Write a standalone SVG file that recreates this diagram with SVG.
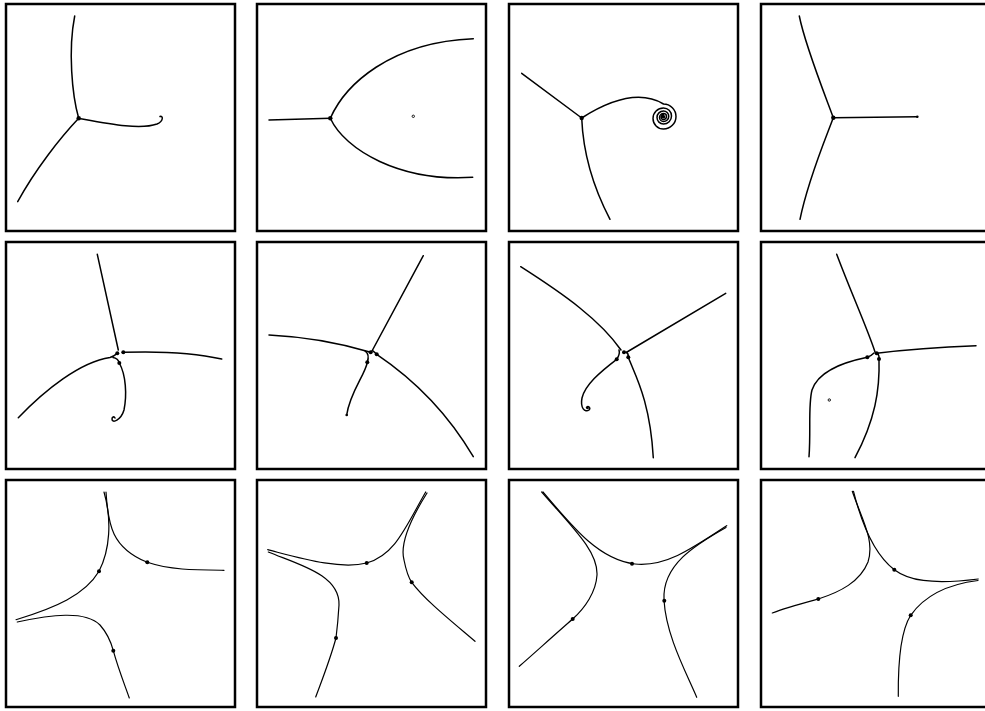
<svg xmlns="http://www.w3.org/2000/svg" width="985" height="711" viewBox="0 0 985 711">
<style>
.frame{fill:none;stroke:#000;stroke-width:2.5}
.c{fill:none;stroke:#000;stroke-width:1.5;stroke-linecap:round;stroke-linejoin:round}
.t{fill:none;stroke:#000;stroke-width:1.2;stroke-linecap:round}
.d{fill:#000}
.o{fill:#fff;stroke:#000;stroke-width:0.9}
</style>
<rect width="985" height="711" fill="#fff"/>
<g id="panel1">
<rect class="frame" x="6" y="4" width="229" height="227"/>
<path class="c" d="M78.7,118.3 C72,95 68,50 74.7,16"/>
<path class="c" d="M78.7,118.3 C60,138 35,170 17.7,201.7"/>
<path class="c" d="M78.7,118.3 C110,124 140,130 157,124 C164,121 163,115.5 160,116.5"/>
<circle class="d" cx="78.7" cy="118.3" r="2.2"/>
</g>
<g id="panel2">
<rect class="frame" x="257" y="4" width="229" height="227"/>
<path class="c" d="M330.3,118.3 L269,120"/>
<path class="c" d="M330.3,118.3 C345,85 390,42 473.3,38.7"/>
<path class="c" d="M330.3,118.3 C345,150 400,182 472.7,177.3"/>
<circle class="d" cx="330.3" cy="118.3" r="2.2"/>
<circle class="o" cx="413.3" cy="116.3" r="1.2"/>
</g>
<g id="panel3">
<rect class="frame" x="509" y="4" width="229" height="227"/>
<path class="c" d="M581.7,118 L521.7,73.3"/>
<path class="c" d="M581.7,118 C583,150 592,185 610,219.3"/>
<path class="c" d="M581.7,118 C610,100 640,90 663.5,104 A12.5,12.5 0 0 1 663.5,129 A10.5,10.5 0 0 1 663.5,108 A8,8 0 0 1 663.5,124 A6.5,6.5 0 0 1 663.5,111 A5.25,5.25 0 0 1 663.5,121.5 A4,4 0 0 1 663.5,113.5 A3,3 0 0 1 663.5,119.5 A2.25,2.25 0 0 1 663.5,115"/>
<circle class="d" cx="663.5" cy="116.8" r="1.8"/>
<circle class="d" cx="581.7" cy="118" r="2.2"/>
</g>
<g id="panel4">
<rect class="frame" x="761" y="4" width="229" height="227"/>
<path class="c" d="M833.3,117.7 C825,95 805,45 799.3,16"/>
<path class="c" d="M833.3,117.7 C825,140 808,180 800,219.3"/>
<path class="c" d="M833.3,117.7 L917.3,116.7"/>
<circle class="d" cx="833.3" cy="117.7" r="2.2"/>
<circle class="d" cx="917.3" cy="116.7" r="1.3"/>
</g>
<g id="panel5">
<rect class="frame" x="6" y="242" width="229" height="227"/>
<path class="c" d="M118.3,350 L97.3,254.3"/>
<path class="c" d="M123.3,352.3 C160,351 195,353 221.7,359"/>
<path class="c" d="M117.3,353.3 C114,356 112,357 110,357.5 C80,362 45,390 18.3,417.7"/>
<path class="c" d="M113,357.5 C116,358 118.5,360 119.3,363 C126,375 127,395 124,410 C121,420 112,424 112,419 C112,417 114,416 115,418"/>
<circle class="d" cx="117.3" cy="353.3" r="2"/>
<circle class="d" cx="123.3" cy="352.3" r="2"/>
<circle class="d" cx="119.3" cy="363" r="2"/>
</g>
<g id="panel6">
<rect class="frame" x="257" y="242" width="229" height="227"/>
<path class="c" d="M372,351 L423.3,255.7"/>
<path class="c" d="M370.7,352.3 C340,343 310,337 269,335"/>
<path class="c" d="M365,351 C368,353 369,357 367.3,362.3 C365,375 350,392 346.7,415"/>
<path class="c" d="M372.5,350.5 C374,352 375.5,353 376.7,354.3 C400,370 440,400 473.3,456.7"/>
<circle class="d" cx="370.7" cy="352.3" r="2"/>
<circle class="d" cx="376.7" cy="354.3" r="2"/>
<circle class="d" cx="367.3" cy="362.3" r="2"/>
<circle class="d" cx="346.7" cy="415" r="1.3"/>
</g>
<g id="panel7">
<rect class="frame" x="509" y="242" width="229" height="227"/>
<path class="c" d="M621,350 C600,320 565,295 520.7,266.7"/>
<path class="c" d="M627,352 L725.7,293.3"/>
<path class="c" d="M619,350 C620,353 619,356 616.7,359.3 C600,372 585,385 582,398 C580,408 585,413 589,410 C591,408 588,405 586.5,407.5"/>
<path class="c" d="M626,352 C628,353 628.5,355 628.3,357.3 C635,375 650,400 653.3,457.7"/>
<circle class="d" cx="624" cy="352.3" r="2"/>
<circle class="d" cx="616.7" cy="359.3" r="2"/>
<circle class="d" cx="628.3" cy="357.3" r="2"/>
<circle class="d" cx="587.5" cy="408" r="1.3"/>
</g>
<g id="panel8">
<rect class="frame" x="761" y="242" width="229" height="227"/>
<path class="c" d="M875,352 C868,330 850,290 836.7,254.3"/>
<path class="c" d="M876.7,353.3 C910,349 940,347 976,345.7"/>
<path class="c" d="M874,353 C872,355 870,356.5 867.3,357.3 C840,363 818,372 812,390 C808,405 811,430 809,456.7"/>
<path class="c" d="M878,354 C879,355.5 879.3,357 879,359 C880,390 875,420 855,457.7"/>
<circle class="d" cx="876.7" cy="353.3" r="2"/>
<circle class="d" cx="867.3" cy="357.3" r="2"/>
<circle class="d" cx="879" cy="359" r="2"/>
<circle class="o" cx="829.3" cy="400" r="1.2"/>
</g>
<g id="panel9">
<rect class="frame" x="6" y="480" width="229" height="227"/>
<path class="t" d="M104,492 C112,520 110,550 99,571.3 C85,595 55,608 16,619.7"/>
<path class="t" d="M106,492 C108,525 112,548 147.3,562.3 C170,570 195,570 224,570.3"/>
<path class="t" d="M17.3,622 C50,615 85,610 100,625 C108,634 111,642 113.3,650.7 C118,668 124,683 129.3,698"/>
<circle class="d" cx="99" cy="571.3" r="2"/>
<circle class="d" cx="147.3" cy="562.3" r="2"/>
<circle class="d" cx="113.3" cy="650.7" r="2"/>
</g>
<g id="panel10">
<rect class="frame" x="257" y="480" width="229" height="227"/>
<path class="t" d="M425.7,492 C405,528 395,555 366.7,563 C340,570 300,558 267.7,549.7"/>
<path class="t" d="M427,493 C410,520 400,545 404,560 C406,570 408,577 411.7,582.3 C425,600 450,620 475,641.3"/>
<path class="t" d="M268.3,552 C300,565 340,575 339,605 C338,622 337,630 336,638 C330,660 322,680 315.7,697"/>
<circle class="d" cx="366.7" cy="563" r="2"/>
<circle class="d" cx="411.7" cy="582.3" r="2"/>
<circle class="d" cx="336" cy="638" r="2"/>
</g>
<g id="panel11">
<rect class="frame" x="509" y="480" width="229" height="227"/>
<path class="t" d="M541.7,492 C575,530 598,552 597,575 C596,592 585,608 572.7,619 C560,630 540,648 519.3,666.3"/>
<path class="t" d="M543,492 C575,530 600,560 635,564 C665,567 690,550 726.7,525.7"/>
<path class="t" d="M726,527.5 C695,545 662,565 664,600 C666,635 685,670 696.7,697.3"/>
<circle class="d" cx="572.7" cy="619" r="2"/>
<circle class="d" cx="632" cy="563.7" r="2"/>
<circle class="d" cx="664.3" cy="600.7" r="2"/>
</g>
<g id="panel12">
<rect class="frame" x="761" y="480" width="229" height="227"/>
<path class="t" d="M852.3,491.3 C862,520 875,540 868,562 C860,582 840,592 818.3,599 C800,604 785,608 772.3,613"/>
<path class="t" d="M853.5,491.3 C862,525 875,555 894.3,569.7 C908,580 930,585 978.3,579"/>
<path class="t" d="M978,580.5 C950,584 925,595 910.7,615.3 C900,632 898,665 898.3,696.3"/>
<circle class="d" cx="818.3" cy="599" r="2"/>
<circle class="d" cx="894.3" cy="569.7" r="2"/>
<circle class="d" cx="910.7" cy="615.3" r="2"/>
</g>
</svg>
